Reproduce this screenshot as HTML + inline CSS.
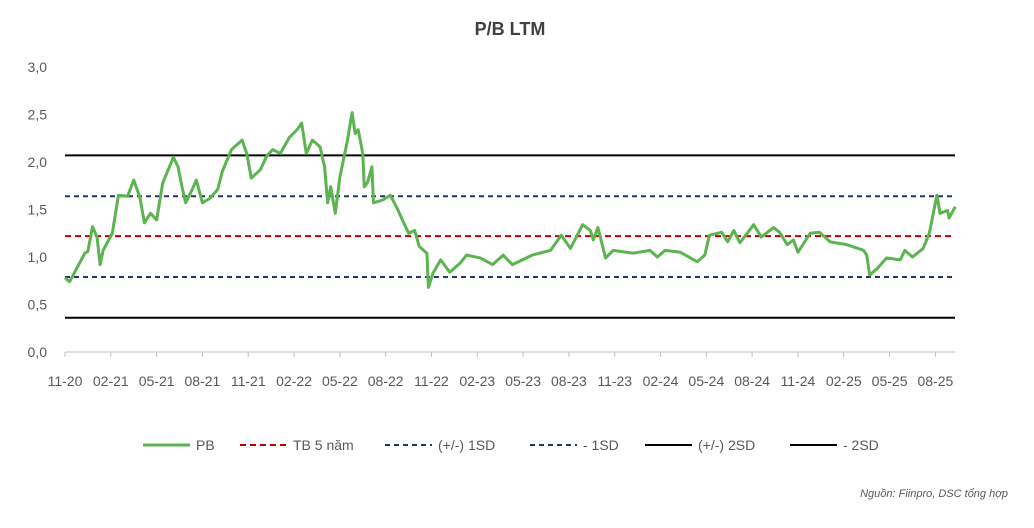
<!DOCTYPE html>
<html><head><meta charset="utf-8"><style>
body{margin:0;background:#fff;font-family:"Liberation Sans",sans-serif;}
svg text{font-family:"Liberation Sans",sans-serif;}
</style></head><body>
<svg id="c" width="1034" height="523">
<text x="510" y="35" text-anchor="middle" font-size="18" font-weight="bold" fill="#404040">P/B LTM</text>
<g id="grid"></g><g id="axes"></g><g id="series"></g>
<g id="legend"></g>
<text x="1008" y="497" text-anchor="end" font-size="11" font-style="italic" fill="#595959">Nguồn: Fiinpro, DSC tổng hợp</text>
</svg>
<script>
const months=[0,0.3,0.9,1.3,1.5,1.8,2.1,2.3,2.5,3.1,3.5,4.1,4.5,4.9,5.2,5.6,6.0,6.4,7.1,7.4,7.7,7.9,8.3,8.6,9.0,9.5,10.0,10.3,10.9,11.6,11.9,12.2,12.8,13.2,13.6,14.1,14.7,15.2,15.5,15.8,16.2,16.7,17.0,17.2,17.4,17.7,18.0,18.5,18.8,19.0,19.2,19.5,19.6,19.8,20.1,20.2,20.8,21.3,21.7,22.1,22.5,22.9,23.2,23.7,23.8,24.1,24.6,25.2,25.9,26.3,27.2,28.0,28.7,29.1,29.3,30.6,31.8,32.5,33.1,33.9,34.4,34.6,34.9,35.4,35.9,37.2,38.3,38.8,39.3,40.3,41.4,41.9,42.2,43.0,43.4,43.8,44.2,45.1,45.6,46.4,46.8,47.3,47.7,48.0,48.8,49.4,50.1,51.2,52.3,52.5,52.7,53.2,53.8,54.7,55.0,55.5,56.2,56.6,57.1,57.3,57.8,57.9,58.3];
const pb=[0.78,0.74,0.92,1.04,1.06,1.32,1.21,0.92,1.07,1.25,1.65,1.64,1.81,1.63,1.36,1.46,1.39,1.78,2.05,1.95,1.71,1.57,1.7,1.81,1.57,1.62,1.71,1.9,2.13,2.23,2.09,1.83,1.92,2.06,2.13,2.09,2.26,2.34,2.41,2.09,2.23,2.16,1.95,1.57,1.74,1.46,1.84,2.23,2.52,2.3,2.34,2.09,1.74,1.78,1.95,1.57,1.6,1.65,1.53,1.39,1.25,1.28,1.11,1.04,0.68,0.83,0.97,0.84,0.94,1.02,0.99,0.92,1.02,0.95,0.92,1.02,1.07,1.23,1.09,1.34,1.28,1.18,1.31,0.99,1.07,1.04,1.07,1.0,1.07,1.05,0.95,1.02,1.23,1.26,1.16,1.28,1.15,1.34,1.21,1.31,1.26,1.13,1.18,1.05,1.25,1.26,1.16,1.13,1.07,1.02,0.81,0.88,0.99,0.97,1.07,1.0,1.09,1.25,1.65,1.46,1.49,1.41,1.53];
const refNames=['TB 5 năm','(+/-) 1SD','- 1SD','(+/-) 2SD','- 2SD'];
const refValues=[1.22,1.64,0.79,2.07,0.36];
const yTicks=[0,0.5,1.0,1.5,2.0,2.5,3.0];
const xTickLabels=['11-20','02-21','05-21','08-21','11-21','02-22','05-22','08-22','11-22','02-23','05-23','08-23','11-23','02-24','05-24','08-24','11-24','02-25','05-25','08-25'];
const NS='http://www.w3.org/2000/svg';
const X0=65,X1=955,Y0=352,MPX=15.27;
const xs=m=>X0+m*MPX, ys=v=>Y0-v*95;
function mk(t,a,p){const e=document.createElementNS(NS,t);for(const k in a)e.setAttribute(k,a[k]);p.appendChild(e);return e;}
const G=document.getElementById('grid'),A=document.getElementById('axes'),S=document.getElementById('series'),L=document.getElementById('legend');
const refStyle=[['#c00000','6,4'],['#1f3864','5,4'],['#1f3864','5,4'],['#000',''],['#000','']];
refValues.forEach((v,i)=>{const l=mk('line',{x1:X0,x2:X1,y1:ys(v),y2:ys(v),stroke:refStyle[i][0],'stroke-width':2,'stroke-dasharray':refStyle[i][1]},G);

});
yTicks.forEach(v=>{const t=mk('text',{x:47,y:ys(v)+5,'text-anchor':'end','font-size':14,fill:'#595959'},A);t.textContent=v.toFixed(1).replace('.',',');

});
const ax=mk('line',{x1:X0,x2:X1,y1:Y0,y2:Y0,stroke:'#bfbfbf','stroke-width':1},A);


xTickLabels.forEach((s,i)=>{const x=xs(i*3);mk('line',{x1:x,x2:x,y1:Y0,y2:Y0+5,stroke:'#bfbfbf'},A);
const t=mk('text',{x:x,y:386,'text-anchor':'middle','font-size':14,fill:'#595959'},A);t.textContent=s;

});
const p=mk('polyline',{points:months.map((m,i)=>xs(m)+','+ys(pb[i])).join(' '),fill:'none',stroke:'#5bb450','stroke-width':3,'stroke-linejoin':'round'},S);


const leg=[['PB','#5bb450','',3,143],['TB 5 năm','#c00000','6,4',2,240],['(+/-) 1SD','#1f3864','5,4',2,385],['- 1SD','#1f3864','5,4',2,530],['(+/-) 2SD','#000','',2,645],['- 2SD','#000','',2,790]];
leg.forEach(e=>{const g=mk('g',{},L);


mk('line',{x1:e[4],x2:e[4]+47,y1:445,y2:445,stroke:e[1],'stroke-width':e[3],'stroke-dasharray':e[2]},g);
const t=mk('text',{x:e[4]+53,y:450,'font-size':14,fill:'#595959'},g);t.textContent=e[0];});
</script>
</body></html>
